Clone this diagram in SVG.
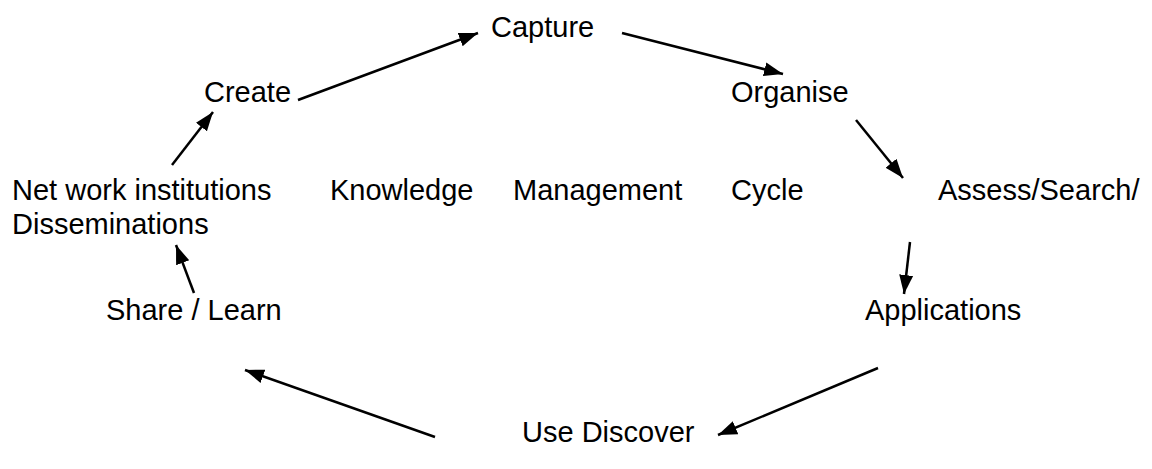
<svg xmlns="http://www.w3.org/2000/svg" width="1152" height="469" viewBox="0 0 1152 469">
<style>
text{font-family:"Liberation Sans",Arial,sans-serif;font-size:29px;fill:#000}
.c{stroke:#000;stroke-width:2.5;fill:none}
</style>
<defs>
<marker id="ah" markerUnits="userSpaceOnUse" markerWidth="20" markerHeight="16" viewBox="0 0 20 16" refX="19" refY="8" orient="auto">
<path d="M0,1 L19,8 L0,15 Z" fill="#000"/>
</marker>
</defs>
<rect width="1152" height="469" fill="#fff"/>
<g id="connectors">
<line class="c" x1="298" y1="100" x2="478" y2="33" marker-end="url(#ah)"/>
<line class="c" x1="622" y1="33" x2="783" y2="74" marker-end="url(#ah)"/>
<line class="c" x1="856" y1="120" x2="903" y2="178" marker-end="url(#ah)"/>
<line class="c" x1="910" y1="242" x2="904" y2="294" marker-end="url(#ah)"/>
<line class="c" x1="878" y1="368" x2="718" y2="435" marker-end="url(#ah)"/>
<line class="c" x1="435" y1="437" x2="245" y2="370" marker-end="url(#ah)"/>
<line class="c" x1="194" y1="293" x2="176" y2="245" marker-end="url(#ah)"/>
<line class="c" x1="172" y1="165" x2="213" y2="112" marker-end="url(#ah)"/>
</g>
<g id="capture"><text x="491" y="37">Capture</text></g>
<g id="create"><text x="204" y="102">Create</text></g>
<g id="organise"><text x="731" y="102">Organise</text></g>
<g id="network"><text x="12" y="200">Net work institutions</text><text x="12" y="234">Disseminations</text></g>
<g id="title"><text x="330" y="200">Knowledge</text><text x="513" y="200">Management</text><text x="731" y="200">Cycle</text></g>
<g id="assess"><text x="938" y="200">Assess/Search/</text></g>
<g id="share"><text x="106" y="320">Share / Learn</text></g>
<g id="applications"><text x="865" y="320">Applications</text></g>
<g id="use"><text x="522" y="442">Use Discover</text></g>
</svg>
